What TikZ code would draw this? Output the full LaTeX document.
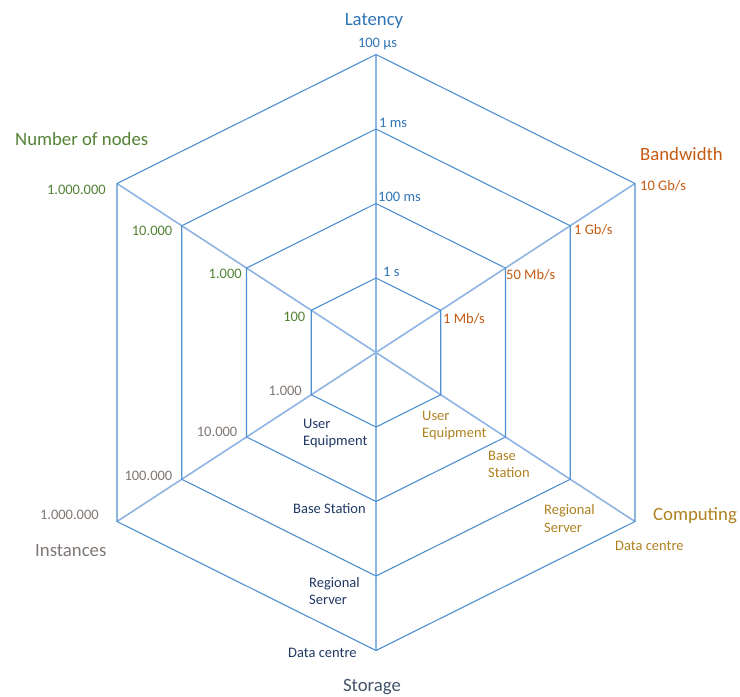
\documentclass[tikz,border=0pt]{standalone}
\usepackage{fontspec}
\setmainfont{Carlito}
\definecolor{ringblue}{HTML}{4F8FD0}
\definecolor{spokeblue}{HTML}{8EB4E3}
\definecolor{latblue}{HTML}{2E75B6}
\definecolor{bworange}{HTML}{C55A11}
\definecolor{cpgold}{HTML}{AF8220}
\definecolor{instgray}{HTML}{7F7773}
\definecolor{nngreen}{HTML}{548235}
\definecolor{sttitle}{HTML}{44546A}
\definecolor{stnavy}{HTML}{203864}
\tikzset{
  ring/.style={draw=ringblue, line width=1.1pt, line join=miter},
  spoke/.style={draw=spokeblue, line width=1.6pt},
  axistitle/.style={inner sep=0pt, font=\fontsize{18.75}{22}\selectfont},
  tick/.style={inner sep=0pt, font=\fontsize{14.5}{17.5}\selectfont},
  tickpair/.style={tick, align=left, anchor=north west}
}
\begin{document}
\begin{tikzpicture}[x=1pt, y=-1pt]
\useasboundingbox (0,0) rectangle (740,697);
\coordinate (C) at (376,352.5);
% ring vertices along the six axes: latency, bandwidth, computing, storage, instances, nodes
\foreach \ax/\dx/\dy in {lat/0/-74.5, bw/64.75/-42.25, cp/64.75/42.25, st/0/74.5, in/-64.75/42.25, nn/-64.75/-42.25}
  \foreach \k in {1,...,4}
    \coordinate (\ax\k) at ({376+\k*\dx},{352.5+\k*\dy});
% spokes
\foreach \ax in {lat,bw,cp,st,in,nn}
  \draw[spoke] (C) -- (\ax4);
% concentric hexagons
\foreach \k in {1,...,4}
  \draw[ring] (lat\k) -- (bw\k) -- (cp\k) -- (st\k) -- (in\k) -- (nn\k) -- cycle;

% Latency
\node[axistitle, text=latblue, anchor=base] (tLat) at (374,25) {Latency};
\node[tick, text=latblue, anchor=base] (lat4l) at (377.5,47) {100 µs};
\node[tick, text=latblue, anchor=base west] (lat3l) at (379,127) {1 ms};
\node[tick, text=latblue, anchor=base west] (lat2l) at (378,201) {100 ms};
\node[tick, text=latblue, anchor=base west] (lat1l) at (383,276) {1 s};

% Bandwidth
\node[axistitle, text=bworange, anchor=base west] (tBw) at (640,160) {Bandwidth};
\node[tick, text=bworange, anchor=base west] (bw4l) at (640,190) {10 Gb/s};
\node[tick, text=bworange, anchor=base west] (bw3l) at (574,234) {1 Gb/s};
\node[tick, text=bworange, anchor=base west] (bw2l) at (506,279) {50 Mb/s};
\node[tick, text=bworange, anchor=base west] (bw1l) at (443,323.5) {1 Mb/s};

% Number of nodes
\node[axistitle, text=nngreen, anchor=base west] (tNn) at (15,145) {Number of nodes};
\node[tick, text=nngreen, anchor=base east] (nn4l) at (106,194) {1.000.000};
\node[tick, text=nngreen, anchor=base east] (nn3l) at (172.5,235) {10.000};
\node[tick, text=nngreen, anchor=base east] (nn2l) at (242,278) {1.000};
\node[tick, text=nngreen, anchor=base east] (nn1l) at (305.5,321) {100};

% Instances
\node[axistitle, text=instgray, anchor=base west] (tIn) at (35,556) {Instances};
\node[tick, text=instgray, anchor=base east] (in4l) at (99,519.5) {1.000.000};
\node[tick, text=instgray, anchor=base east] (in3l) at (172.5,480) {100.000};
\node[tick, text=instgray, anchor=base east] (in2l) at (237.5,436.5) {10.000};
\node[tick, text=instgray, anchor=base east] (in1l) at (302,395) {1.000};

% Computing
\node[axistitle, text=cpgold, anchor=base west] (tCp) at (653,520) {Computing};
\node[tickpair, text=cpgold] (cp1l) at (422,410.5) {User\\Equipment};
\node[tickpair, text=cpgold] (cp2l) at (488,450.5) {Base\\Station};
\node[tickpair, text=cpgold] (cp3l) at (544,504.5) {Regional\\Server};
\node[tick, text=cpgold, anchor=base west] (cp4l) at (615,550) {Data centre};

% Storage
\node[axistitle, text=sttitle, anchor=base] (tSt) at (372,691) {Storage};
\node[tickpair, text=stnavy] (st1l) at (303,418.5) {User\\Equipment};
\node[tick, text=stnavy, anchor=base west] (st2l) at (293,513.5) {Base Station};
\node[tickpair, text=stnavy] (st3l) at (309,577) {Regional\\Server};
\node[tick, text=stnavy, anchor=base west] (st4l) at (288,657) {Data centre};
\end{tikzpicture}
\end{document}
